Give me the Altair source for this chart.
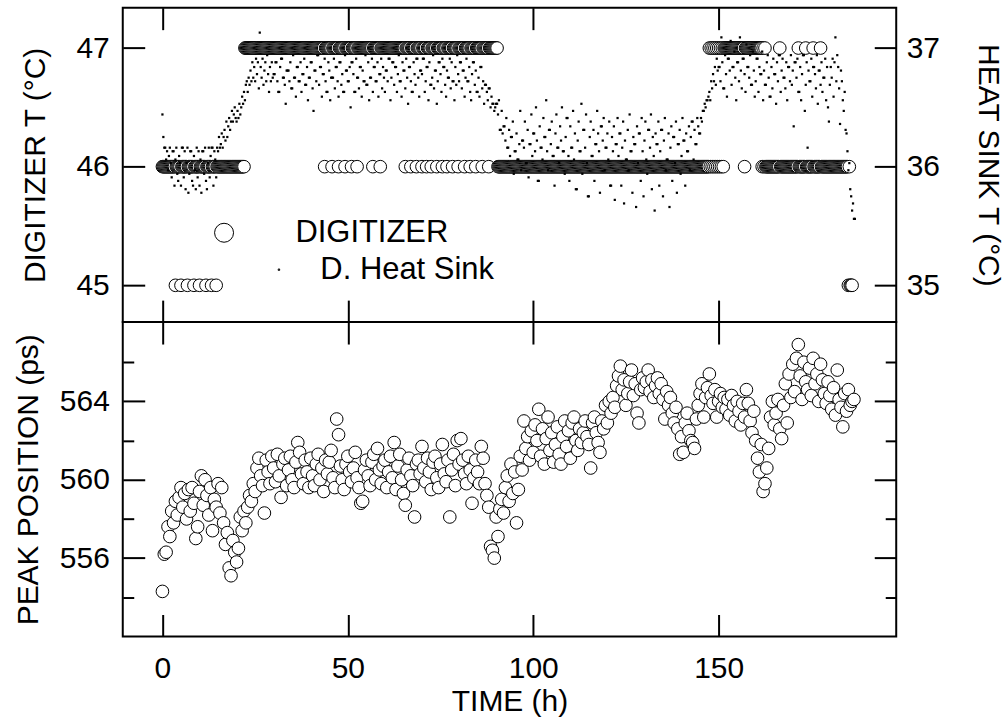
import altair as alt
import pandas as pd

FONT = "Liberation Sans"

TIME_TICKS = [0, 50, 100, 150]
DIG_TICKS = [45, 46, 47]
SINK_TICKS = [35, 36, 37]
PEAK_TICKS = [554, 556, 558, 560, 562, 564, 566]
SERIES = ["DIGITIZER", "D. Heat Sink"]

# Digitizer temperature, logged every 0.25 h; one string per 10-hour block.
# Each digit d is a reading of (40 + d) degC; blanks only group the digits.
DIGITIZER_LOG = [
    "6666666666 6666566666 5666666566 6666566666",  # 0-10 h
    "5666666566 6665666656 6666666666 6666666666",  # 10-20 h
    "6666666667 7777777777 7777777777 7777777777",  # 20-30 h
    "7777777777 7777777777 7777777777 7777777777",  # 30-40 h
    "7777777777 7777767777 7776777777 6777777677",  # 40-50 h
    "7777677777 6777777777 7777777677 7777767777",  # 50-60 h
    "7777777777 7777777777 7767777767 7777677777",  # 60-70 h
    "6777767777 6777776777 7767777677 7776777776",  # 70-80 h
    "7777776777 7767777767 7777767777 7767777777",  # 80-90 h
    "7766666666 6666666666 6666666666 6666666666",  # 90-100 h
    "6666666666 6666666666 6666666666 6666666666",  # 100-110 h
    "6666666666 6666666666 6666666666 6666666666",  # 110-120 h
    "6666666666 6666666666 6666666666 6666666666",  # 120-130 h
    "6666666666 6666666666 6666666666 6666666666",  # 130-140 h
    "6666666666 6666666666 6666666666 7676767676",  # 140-150 h
    "7676767777 7777777777 7777777767 7777777777",  # 150-160 h
    "7777777676 7666666666 6666667666 6666666666",  # 160-170 h
    "6666667666 6666766666 6676666666 7666666666",  # 170-180 h
    "6666666666 6666666666 56555",                  # 180-186 h
]

# Digitizer heat-sink temperature (degC), same 0.25 h clock; one row per 10 h.
HEAT_SINK = [
    [36.44, 36.25, 36.16, 36.16, 36.06, 36.13, 35.97, 36.09, 36.16, 36.03,
     35.91, 36.13, 36.13, 35.84, 36.06, 36.16, 35.94, 35.88, 36.09, 36.03,
     35.84, 36.16, 36.16, 35.91, 36.13, 35.81, 36.03, 36.16, 35.78, 35.94,
     36.13, 36.13, 35.88, 35.84, 36.09, 35.97, 35.81, 36.16, 35.91, 36.13],
    [35.84, 36.06, 35.78, 36.13, 36.13, 35.94, 36.16, 35.88, 35.81, 36.03,
     36.16, 35.91, 36.09, 36.16, 36.16, 35.84, 36.13, 36.06, 35.91, 36.16,
     36.13, 36.25, 36.16, 36.19, 36.28, 36.16, 36.25, 36.31, 36.22, 36.38,
     36.25, 36.34, 36.41, 36.31, 36.38, 36.47, 36.38, 36.44, 36.50, 36.41],
    [36.38, 36.47, 36.41, 36.53, 36.44, 36.50, 36.59, 36.53, 36.63, 36.56,
     36.69, 36.72, 36.63, 36.75, 36.69, 36.81, 36.72, 36.88, 36.75, 36.84,
     36.72, 36.91, 36.78, 36.88, 36.66, 37.13, 36.84, 36.75, 36.91, 36.69,
     36.81, 36.88, 36.72, 36.94, 36.78, 36.63, 36.84, 36.72, 36.88, 36.75],
    [36.78, 36.78, 36.88, 36.88, 36.72, 36.63, 36.63, 36.84, 36.91, 36.91,
     36.75, 36.75, 36.69, 36.53, 36.81, 36.81, 36.81, 36.72, 36.88, 36.66,
     36.66, 36.94, 36.75, 36.75, 36.59, 36.84, 36.84, 36.72, 36.72, 36.88,
     36.63, 36.78, 36.78, 36.91, 36.69, 36.69, 36.84, 36.56, 36.75, 36.75],
    [36.88, 36.88, 36.66, 36.47, 36.81, 36.81, 36.72, 36.94, 36.94, 36.69,
     36.84, 36.84, 36.59, 36.78, 36.78, 36.91, 36.72, 36.63, 36.63, 36.88,
     36.81, 36.56, 36.75, 36.75, 36.75, 36.91, 36.66, 36.84, 36.84, 36.72,
     36.59, 36.88, 36.88, 36.69, 36.78, 36.63, 36.63, 36.94, 36.81, 36.81],
    [36.72, 36.72, 36.84, 36.50, 36.88, 36.88, 36.78, 36.63, 36.63, 36.91,
     36.75, 36.75, 36.66, 36.84, 36.84, 36.59, 36.81, 36.72, 36.72, 36.94,
     36.69, 36.69, 36.88, 36.56, 36.75, 36.75, 36.91, 36.63, 36.84, 36.84,
     36.72, 36.72, 36.88, 36.59, 36.78, 36.78, 36.91, 36.66, 36.84, 36.75],
    [36.63, 36.81, 36.81, 36.72, 36.91, 36.91, 36.56, 36.75, 36.88, 36.88,
     36.69, 36.84, 36.84, 36.63, 36.78, 36.94, 36.72, 36.72, 36.59, 36.88,
     36.81, 36.81, 36.66, 36.91, 36.75, 36.53, 36.84, 36.84, 36.72, 36.63,
     36.63, 36.88, 36.78, 36.69, 36.91, 36.91, 36.75, 36.59, 36.81, 36.81],
    [36.78, 36.91, 36.91, 36.63, 36.72, 36.84, 36.84, 36.56, 36.88, 36.69,
     36.69, 36.75, 36.94, 36.66, 36.81, 36.81, 36.53, 36.72, 36.88, 36.88,
     36.78, 36.63, 36.91, 36.84, 36.84, 36.69, 36.59, 36.81, 36.75, 36.75,
     36.91, 36.66, 36.88, 36.72, 36.72, 36.56, 36.84, 36.69, 36.94, 36.78],
    [36.72, 36.88, 36.88, 36.66, 36.81, 36.81, 36.59, 36.75, 36.91, 36.72,
     36.72, 36.84, 36.63, 36.56, 36.78, 36.88, 36.88, 36.69, 36.81, 36.63,
     36.63, 36.75, 36.59, 36.84, 36.84, 36.66, 36.72, 36.53, 36.69, 36.69,
     36.63, 36.56, 36.66, 36.66, 36.50, 36.59, 36.53, 36.53, 36.47, 36.50],
    [36.53, 36.53, 36.44, 36.56, 36.31, 36.31, 36.47, 36.28, 36.34, 36.34,
     36.22, 36.41, 36.16, 36.16, 36.31, 36.09, 36.25, 36.25, 36.38, 35.94,
     36.13, 36.13, 36.28, 36.06, 36.06, 36.19, 36.47, 35.97, 36.22, 36.22,
     36.16, 36.38, 36.03, 36.03, 36.31, 35.91, 36.19, 36.19, 36.44, 36.09],
    [36.28, 36.28, 36.13, 36.50, 36.22, 35.88, 35.88, 36.34, 36.16, 36.16,
     36.06, 36.41, 36.25, 36.25, 36.56, 36.13, 35.97, 36.31, 36.31, 36.19,
     36.38, 36.09, 36.09, 35.84, 36.28, 36.44, 36.16, 36.16, 36.03, 36.34,
     36.22, 36.50, 36.13, 36.13, 35.94, 36.25, 36.41, 36.41, 36.09, 35.88],
    [36.34, 36.16, 36.16, 36.47, 36.06, 36.28, 35.81, 35.81, 36.22, 36.38,
     36.13, 36.13, 36.53, 35.94, 36.31, 36.31, 36.16, 36.44, 36.03, 35.75,
     35.75, 36.25, 36.38, 36.09, 36.09, 36.31, 35.88, 36.19, 36.19, 36.47,
     36.28, 36.13, 35.78, 36.34, 36.34, 36.22, 36.41, 35.97, 36.16, 36.16],
    [36.28, 36.06, 36.38, 35.84, 35.84, 36.25, 36.13, 36.34, 35.72, 36.19,
     36.19, 36.41, 36.09, 36.28, 36.28, 35.84, 36.16, 36.38, 35.69, 36.22,
     36.06, 36.06, 36.31, 35.97, 36.44, 36.13, 36.13, 35.78, 36.25, 36.19,
     36.19, 35.66, 36.34, 36.03, 36.28, 36.28, 35.88, 36.41, 36.13, 35.75],
    [36.22, 36.38, 36.06, 35.94, 36.31, 36.31, 36.16, 36.44, 35.81, 36.25,
     36.09, 35.63, 36.28, 36.19, 36.19, 36.38, 35.84, 36.13, 36.31, 36.31,
     35.75, 36.22, 36.41, 35.97, 36.06, 36.06, 36.28, 35.66, 36.16, 36.34,
     35.88, 36.25, 36.25, 36.03, 36.38, 35.78, 36.19, 36.19, 36.31, 35.94],
    [36.09, 36.41, 36.22, 36.22, 35.84, 36.28, 36.13, 36.13, 36.34, 35.97,
     36.25, 36.38, 36.38, 36.06, 36.31, 36.19, 36.19, 36.41, 36.34, 36.28,
     36.28, 36.41, 36.38, 36.47, 36.47, 36.53, 36.50, 36.56, 36.56, 36.59,
     36.63, 36.56, 36.72, 36.66, 36.78, 36.72, 36.84, 36.69, 36.91, 36.81],
    [36.84, 36.84, 36.72, 37.09, 36.88, 36.66, 36.66, 36.94, 36.78, 36.59,
     36.91, 36.91, 36.81, 37.06, 36.69, 36.84, 36.84, 36.97, 36.75, 36.56,
     36.88, 36.88, 36.72, 37.09, 36.81, 36.66, 36.91, 36.91, 36.78, 36.63,
     37.03, 36.84, 36.84, 36.75, 36.94, 36.69, 36.69, 36.97, 36.81, 36.59],
    [36.72, 36.91, 36.91, 36.63, 36.84, 36.78, 36.78, 36.97, 36.56, 36.81,
     36.69, 36.69, 36.88, 36.94, 36.75, 36.59, 36.59, 36.84, 36.66, 36.91,
     36.78, 36.78, 36.53, 36.88, 36.72, 36.94, 36.94, 36.63, 36.81, 36.91,
     36.75, 36.75, 36.66, 36.88, 36.56, 36.84, 36.84, 36.72, 36.94, 36.69],
    [36.81, 36.34, 36.88, 36.88, 36.75, 36.91, 36.63, 36.63, 36.84, 36.56,
     36.78, 36.94, 36.94, 36.47, 36.69, 36.88, 36.16, 36.81, 36.72, 36.72,
     36.91, 36.59, 36.84, 36.84, 36.78, 36.66, 36.94, 36.53, 36.81, 36.81,
     36.69, 36.88, 36.63, 36.75, 36.75, 36.91, 36.56, 36.84, 36.50, 36.38],
    [36.69, 36.84, 36.75, 36.91, 36.59, 36.88, 37.09, 36.72, 36.94, 36.84,
     36.66, 36.36, 36.81, 36.72, 36.56, 36.47, 36.63, 36.31, 36.28, 36.13,
     35.97, 36.03, 35.81, 35.75, 35.63, 35.69, 35.56, 35.56],
]

# Peak position (ps), every 0.5 h; one row per 10 h.
PEAK = [
    [554.3, 556.2, 556.3, 557.6, 557.1, 558.4, 557.8, 558.9, 558.2, 559.1,
     559.6, 558.6, 559.3, 558.0, 559.5, 558.4, 559.6, 558.8, 557.0, 557.6],
    [559.4, 560.2, 558.7, 560.0, 559.2, 558.2, 559.6, 557.4, 559.0, 558.6,
     559.8, 558.3, 559.6, 557.8, 556.7, 557.3, 555.5, 555.1, 556.9, 556.3],
    [555.8, 556.5, 558.1, 557.4, 558.4, 557.8, 558.6, 559.2, 558.9, 559.8,
     559.4, 560.6, 561.1, 560.2, 559.7, 558.3, 561.0, 560.4, 559.8, 561.2],
    [560.6, 559.9, 561.3, 560.2, 559.1, 560.8, 561.1, 559.7, 560.5, 561.2,
     560.0, 559.6, 560.9, 561.9, 561.4, 560.3, 559.8, 561.0, 560.4, 559.6],
    [561.1, 560.2, 559.7, 560.8, 561.3, 560.0, 560.6, 559.4, 561.0, 560.3,
     560.9, 561.5, 560.1, 559.6, 563.1, 562.3, 560.7, 560.0, 559.5, 560.8],
    [561.2, 560.4, 559.9, 560.6, 561.4, 560.1, 559.6, 558.8, 558.9, 560.5,
     561.0, 560.2, 559.7, 560.9, 561.3, 560.0, 561.6, 560.5, 559.8, 560.7],
    [561.0, 559.6, 560.4, 561.2, 560.1, 561.9, 559.5, 560.7, 561.3, 560.0,
     559.3, 558.7, 560.5, 561.1, 560.2, 559.7, 558.1, 560.8, 561.0, 560.3],
    [561.7, 560.6, 559.9, 561.1, 560.4, 559.5, 560.9, 561.2, 560.1, 559.6,
     560.8, 561.8, 560.3, 559.9, 561.0, 558.1, 560.5, 561.3, 559.7, 562.0],
    [560.8, 562.1, 561.0, 560.3, 559.8, 561.2, 560.5, 558.8, 560.1, 561.0,
     560.4, 559.8, 561.7, 561.1, 559.8, 559.2, 558.6, 556.6, 556.4, 556.0],
    [558.1, 557.1, 558.5, 559.0, 558.3, 559.6, 560.2, 558.9, 560.8, 559.3,
     560.4, 557.8, 559.5, 561.2, 560.5, 563.0, 561.6, 562.2, 561.0, 562.5],
    [561.4, 562.8, 562.0, 563.6, 561.2, 562.6, 560.8, 562.1, 563.2, 561.5,
     562.4, 560.9, 561.8, 562.7, 561.3, 560.8, 562.2, 563.0, 561.7, 562.5],
    [561.1, 562.9, 563.2, 562.0, 561.5, 562.6, 561.9, 562.4, 563.0, 562.2,
     561.8, 560.6, 562.9, 563.2, 562.4, 561.9, 561.4, 563.0, 562.6, 563.8],
    [562.9, 564.0, 563.4, 564.2, 563.7, 564.8, 565.3, 565.8, 564.6, 565.1,
     563.8, 564.4, 565.0, 565.6, 564.3, 564.9, 563.4, 562.9, 564.6, 565.2],
    [564.7, 565.0, 565.6, 564.5, 565.1, 564.2, 564.8, 565.2, 564.4, 564.9,
     564.1, 563.1, 564.5, 563.8, 564.2, 563.4, 562.9, 563.7, 562.6, 561.3],
    [562.2, 561.4, 562.9, 563.4, 562.5, 562.0, 561.9, 561.6, 563.1, 563.8,
     564.4, 564.9, 563.2, 564.2, 564.7, 565.4, 564.3, 563.9, 564.6, 563.2],
    [564.0, 564.4, 563.7, 564.2, 563.6, 564.1, 563.3, 564.3, 563.8, 563.0,
     564.0, 563.5, 562.8, 563.9, 563.2, 564.6, 563.9, 563.0, 562.4, 563.5],
    [562.0, 561.1, 560.4, 561.8, 559.4, 559.8, 560.6, 561.6, 563.2, 564.0,
     562.8, 563.4, 564.1, 562.6, 562.1, 563.8, 564.9, 562.9, 565.4, 564.2],
    [565.9, 564.5, 566.2, 566.9, 565.3, 564.1, 566.0, 565.0, 564.6, 565.7,
     564.3, 566.2, 564.9, 565.4, 564.0, 565.9, 565.1, 564.4, 563.9, 565.0],
    [564.3, 563.6, 564.7, 563.3, 565.6, 564.1, 563.7, 562.7, 564.4, 563.5,
     564.6, 563.8, 564.0, 564.1],
]

dig_df = pd.DataFrame(
    [{"time": 10 * b + 0.25 * j, "temp": 40 + int(c)}
     for b, text in enumerate(DIGITIZER_LOG)
     for j, c in enumerate(text.replace(" ", ""))]
)
sink_df = pd.DataFrame(
    [{"time": 10 * b + 0.25 * j, "temp": v}
     for b, row in enumerate(HEAT_SINK) for j, v in enumerate(row)]
)
peak_df = pd.DataFrame(
    [{"time": 10 * b + 0.5 * j, "peak": v}
     for b, row in enumerate(PEAK) for j, v in enumerate(row)]
)
legend_df = pd.DataFrame({"series": SERIES})

W, H = 775, 315
x_scale = alt.Scale(domain=[-10.7, 197.9], nice=False, zero=False)
dig_scale = alt.Scale(domain=[44.69, 47.34], nice=False, zero=False)
sink_scale = alt.Scale(domain=[34.69, 37.34], nice=False, zero=False)
peak_scale = alt.Scale(domain=[552.0, 568.05], nice=False, zero=False)

# ticks drawn inward from the frame; minor peak ticks are half length
IN_MAJOR = alt.ExprRef(expr="-22")
IN_MIXED = alt.ExprRef(expr="datum.value % 4 == 0 ? -22 : -11")

circle_style = dict(shape="circle", filled=True, fill="white", stroke="black",
                    strokeWidth=1, size=160, opacity=1)

# upper panel: digitizer (left axis) and heat sink (right axis)
dig_layer = alt.Chart(dig_df).mark_point(**circle_style).encode(
    x=alt.X("time:Q", scale=x_scale,
            axis=alt.Axis(orient="bottom", values=TIME_TICKS, labels=False,
                          tickSize=IN_MAJOR, title=None)),
    y=alt.Y("temp:Q", scale=dig_scale,
            axis=alt.Axis(orient="left", values=DIG_TICKS, format="d",
                          tickSize=IN_MAJOR, labelPadding=35.5,
                          title="DIGITIZER T (°C)", titlePadding=26)),
)

sink_layer = alt.Chart(sink_df).mark_point(
    shape="square", filled=True, color="black", size=5, opacity=1, strokeWidth=0
).encode(
    x=alt.X("time:Q", scale=x_scale,
            axis=alt.Axis(orient="top", values=TIME_TICKS, labels=False,
                          tickSize=IN_MAJOR, title=None)),
    y=alt.Y("temp:Q", scale=sink_scale,
            axis=alt.Axis(orient="right", values=SINK_TICKS, format="d",
                          tickSize=IN_MAJOR, labelPadding=32,
                          title="HEAT SINK T (°C)", titlePadding=33)),
)


# one single-entry key per series, stacked inside the upper panel
def series_key(name, shape, symbol_size, fill, key_x, key_y, label_offset):
    return alt.Chart(legend_df).transform_filter("false").mark_point(
        filled=False, color="black", strokeWidth=1, opacity=1
    ).encode(
        shape=alt.Shape(
            "series:N", scale=alt.Scale(domain=[name], range=[shape]),
            legend=alt.Legend(
                title=None, orient="none", legendX=key_x, legendY=key_y,
                padding=0, labelFont=FONT, labelFontSize=31,
                labelColor="black", labelLimit=400, labelOffset=label_offset,
                symbolSize=symbol_size, symbolFillColor=fill,
                symbolStrokeColor="black", symbolStrokeWidth=1,
            ),
        ),
    )


dig_key = series_key(SERIES[0], "circle", 361, "white", 86, 210, 56)
sink_key = series_key(SERIES[1], "square", 2, "black", 141, 247, 26)

top = alt.layer(dig_layer, sink_layer, dig_key, sink_key).resolve_scale(
    y="independent", shape="independent"
).resolve_axis(x="independent").properties(width=W, height=H)

# lower panel: peak position
peak_layer = alt.Chart(peak_df).mark_point(**circle_style).encode(
    x=alt.X("time:Q", scale=x_scale,
            axis=alt.Axis(orient="bottom", values=TIME_TICKS, tickSize=IN_MAJOR,
                          labelPadding=39, title="TIME (h)", titlePadding=3)),
    y=alt.Y("peak:Q", scale=peak_scale,
            axis=alt.Axis(orient="left", values=PEAK_TICKS, tickSize=IN_MIXED,
                          labelExpr="datum.value % 4 == 0 ? datum.label : ''",
                          labelPadding=35.5, title="PEAK POSITION (ps)",
                          titlePadding=16)),
)
peak_frame = alt.Chart(peak_df).transform_filter("false").mark_point(opacity=1).encode(
    x=alt.X("time:Q", scale=x_scale,
            axis=alt.Axis(orient="top", values=TIME_TICKS, labels=False,
                          tickSize=IN_MAJOR, title=None)),
    y=alt.Y("peak:Q", scale=peak_scale,
            axis=alt.Axis(orient="right", values=PEAK_TICKS, labels=False,
                          tickSize=IN_MIXED, title=None)),
)
bottom = alt.layer(peak_layer, peak_frame).resolve_axis(
    x="independent", y="independent"
).properties(width=W, height=H)

chart = alt.vconcat(top, bottom, spacing=0, bounds="flush").properties(
    padding={"left": 12, "top": 5, "right": 4, "bottom": 4}
).configure(background="white").configure_view(
    stroke="black", strokeWidth=2
).configure_axis(
    labelFont=FONT, titleFont=FONT, labelFontSize=30, titleFontSize=30,
    labelColor="black", titleColor="black", titleFontWeight="normal",
    tickColor="black", tickWidth=2, domain=False, grid=False, zindex=1,
    labelOverlap=False, labelFlush=False,
)

chart.save("out.html", embed_options={"renderer": "svg", "actions": False})
